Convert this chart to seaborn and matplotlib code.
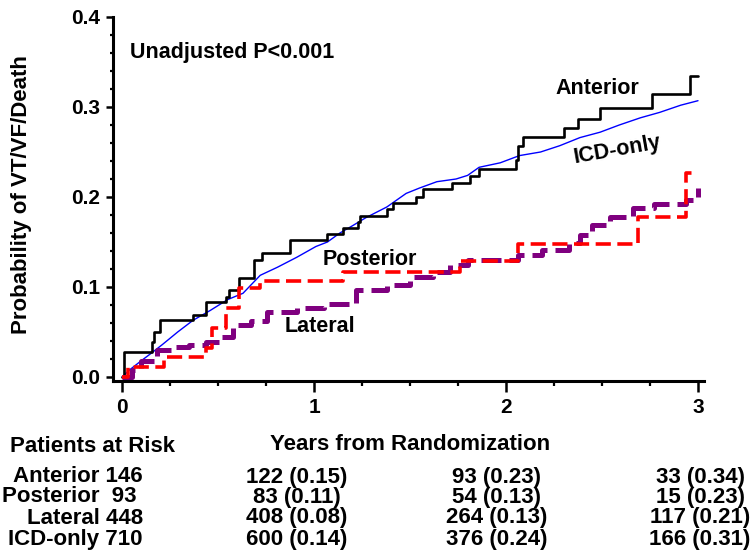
import numpy as np
import pandas as pd
import matplotlib
matplotlib.use("Agg")
import matplotlib.pyplot as plt
import seaborn as sns
from matplotlib.ticker import MultipleLocator, FormatStrFormatter

# cumulative event curves (years, probability)
anterior_t = [0, 0.01, 0.156, 0.167, 0.198, 0.37, 0.44, 0.54, 0.555, 0.61, 0.69, 0.73,
              0.875, 1.07, 1.15, 1.23, 1.24, 1.38, 1.41, 1.53, 1.57, 1.72, 1.81, 1.86,
              2.05, 2.06, 2.09, 2.30, 2.375, 2.49, 2.76, 2.96, 3.0]
anterior_p = [0, 0.028, 0.039, 0.05, 0.063, 0.069, 0.083, 0.089, 0.097, 0.11, 0.13, 0.138,
              0.152, 0.159, 0.166, 0.172, 0.179, 0.187, 0.193, 0.2, 0.209, 0.216, 0.223, 0.231,
              0.241, 0.257, 0.267, 0.277, 0.287, 0.299, 0.315, 0.335, 0.335]

icd_t = [0, 0.04, 0.10, 0.156, 0.21, 0.29, 0.37, 0.46, 0.55, 0.63, 0.72, 0.81, 0.91,
         1.01, 1.07, 1.135, 1.20, 1.27, 1.38, 1.48, 1.55, 1.64, 1.74, 1.80, 1.86, 1.97,
         2.07, 2.18, 2.28, 2.385, 2.49, 2.59, 2.70, 2.80, 2.91, 3.0]
icd_p = [0, 0.008, 0.018, 0.027, 0.036, 0.05, 0.063, 0.074, 0.086, 0.093, 0.113, 0.122, 0.133,
         0.145, 0.15, 0.16, 0.168, 0.177, 0.189, 0.204, 0.21, 0.217, 0.22, 0.224, 0.233, 0.238,
         0.246, 0.25, 0.257, 0.266, 0.272, 0.28, 0.288, 0.294, 0.302, 0.307]

posterior_t = [0, 0.03, 0.22, 0.44, 0.47, 0.54, 0.61, 0.72, 1.15, 1.76, 2.06, 2.69, 2.94, 3.0]
posterior_p = [0, 0.011, 0.022, 0.032, 0.054, 0.077, 0.099, 0.107, 0.117, 0.129, 0.148,
               0.178, 0.227, 0.227]

lateral_t = [0, 0.05, 0.10, 0.18, 0.27, 0.35, 0.44, 0.51, 0.58, 0.67, 0.755, 0.91, 1.05,
             1.22, 1.38, 1.50, 1.62, 1.71, 1.80, 1.97, 2.06, 2.19, 2.33, 2.385, 2.45,
             2.54, 2.66, 2.77, 2.94, 2.99, 3.0]
lateral_p = [0, 0.008, 0.018, 0.03, 0.033, 0.036, 0.039, 0.044, 0.058, 0.062, 0.072, 0.077,
             0.081, 0.097, 0.102, 0.111, 0.117, 0.124, 0.13, 0.13, 0.136, 0.141, 0.149,
             0.158, 0.169, 0.178, 0.188, 0.192, 0.197, 0.2, 0.21]

# patients at risk table
risk_labels = ["Anterior 146", "Posterior  93", "Lateral 448", "ICD-only 710"]
risk_year1 = ["122 (0.15)", "83 (0.11)", "408 (0.08)", "600 (0.14)"]
risk_year2 = ["93 (0.23)", "54 (0.13)", "264 (0.13)", "376 (0.24)"]
risk_year3 = ["33 (0.34)", "15 (0.23)", "117 (0.21)", "166 (0.31)"]

sns.set_style("ticks")
plt.rcParams["font.family"] = ["Liberation Sans", "DejaVu Sans"]
plt.rcParams["font.weight"] = "bold"
plt.rcParams["text.color"] = "black"
plt.rcParams["axes.labelcolor"] = "black"

W, H = 753, 552
fig = plt.figure(figsize=(W / 100, H / 100), dpi=100)
ax = fig.add_axes([113 / W, 1 - 381 / H, (704 - 113) / W, (381 - 17) / H])


def draw(t, p, steps=True, **kw):
    df = pd.DataFrame({"years": t, "prob": p})
    if steps:
        kw["drawstyle"] = "steps-post"
    sns.lineplot(data=df, x="years", y="prob", ax=ax, estimator=None, sort=False,
                 legend=False, **kw)


draw(icd_t, icd_p, steps=False, color="#0000ff", linewidth=1.0)
draw(anterior_t, anterior_p, color="black", linewidth=1.9)
draw(lateral_t, lateral_p, color="#7f007f", linewidth=3.6, linestyle=(0, (4.0, 1.6)))
draw(posterior_t, posterior_p, color="#ff0000", linewidth=2.6, linestyle=(0, (4.2, 1.8)))

ax.set_xlim(-9 / 192, 3 + 6 / 192)
ax.set_ylim(-4 / 900, 0.4)
ax.xaxis.set_major_locator(MultipleLocator(1))
ax.xaxis.set_minor_locator(MultipleLocator(0.25))
ax.yaxis.set_major_locator(MultipleLocator(0.1))
ax.yaxis.set_minor_locator(MultipleLocator(0.02))
ax.yaxis.set_major_formatter(FormatStrFormatter("%.1f"))

for side in ["top", "right"]:
    ax.spines[side].set_visible(False)
for side in ["left", "bottom"]:
    ax.spines[side].set_color("black")
    ax.spines[side].set_linewidth(2.2)

ax.tick_params(axis="x", which="major", length=8, width=1.8, color="black",
               labelsize=15, pad=4, labelcolor="black")
ax.tick_params(axis="x", which="minor", length=3.8, width=1.6, color="black")
ax.tick_params(axis="y", which="major", length=5, width=1.8, color="black",
               labelsize=15, pad=4, labelcolor="black")
ax.tick_params(axis="y", which="minor", length=2.5, width=1.6, color="black")
for lab in ax.get_xticklabels() + ax.get_yticklabels():
    lab.set_fontweight("bold")

ax.set_ylabel("Probability of VT/VF/Death", fontsize=16, fontweight="bold", va="center")
ax.yaxis.set_label_coords((22 - 113) / 591, (381 - 195) / 364)
ax.set_xlabel("Years from Randomization", fontsize=16, fontweight="bold", va="center")
ax.xaxis.set_label_coords((410 - 113) / 591, (381 - 444) / 364)

fs = 15.5
ax.text(0.04, 0.361, "Unadjusted P<0.001", fontsize=fs, fontweight="bold", va="center")
ax.text(2.26, 0.321, "Anterior", fontsize=fs, fontweight="bold", va="center")
ax.text(2.58, 0.252, "ICD-only", fontsize=fs, fontweight="bold", va="center",
        ha="center", rotation=10, rotation_mode="anchor")
ax.text(1.047, 0.131, "Posterior", fontsize=fs, fontweight="bold", va="center")
ax.text(0.849, 0.056, "Lateral", fontsize=fs, fontweight="bold", va="center")


def ftext(x, y, s, **kw):
    fig.text(x / W, 1 - y / H, s, fontsize=16, fontweight="bold", va="center", **kw)


ftext(10, 446, "Patients at Risk", ha="left")
row_y = [477, 497, 518, 539]
label_right = [143, 137, 143, 143]
for i in range(4):
    ftext(label_right[i], row_y[i], risk_labels[i].strip(), ha="right")
    ftext(297, row_y[i], risk_year1[i], ha="center")
    ftext(497, row_y[i], risk_year2[i], ha="center")
    ftext(700, row_y[i], risk_year3[i], ha="center")

fig.savefig("out.png", dpi=100)
